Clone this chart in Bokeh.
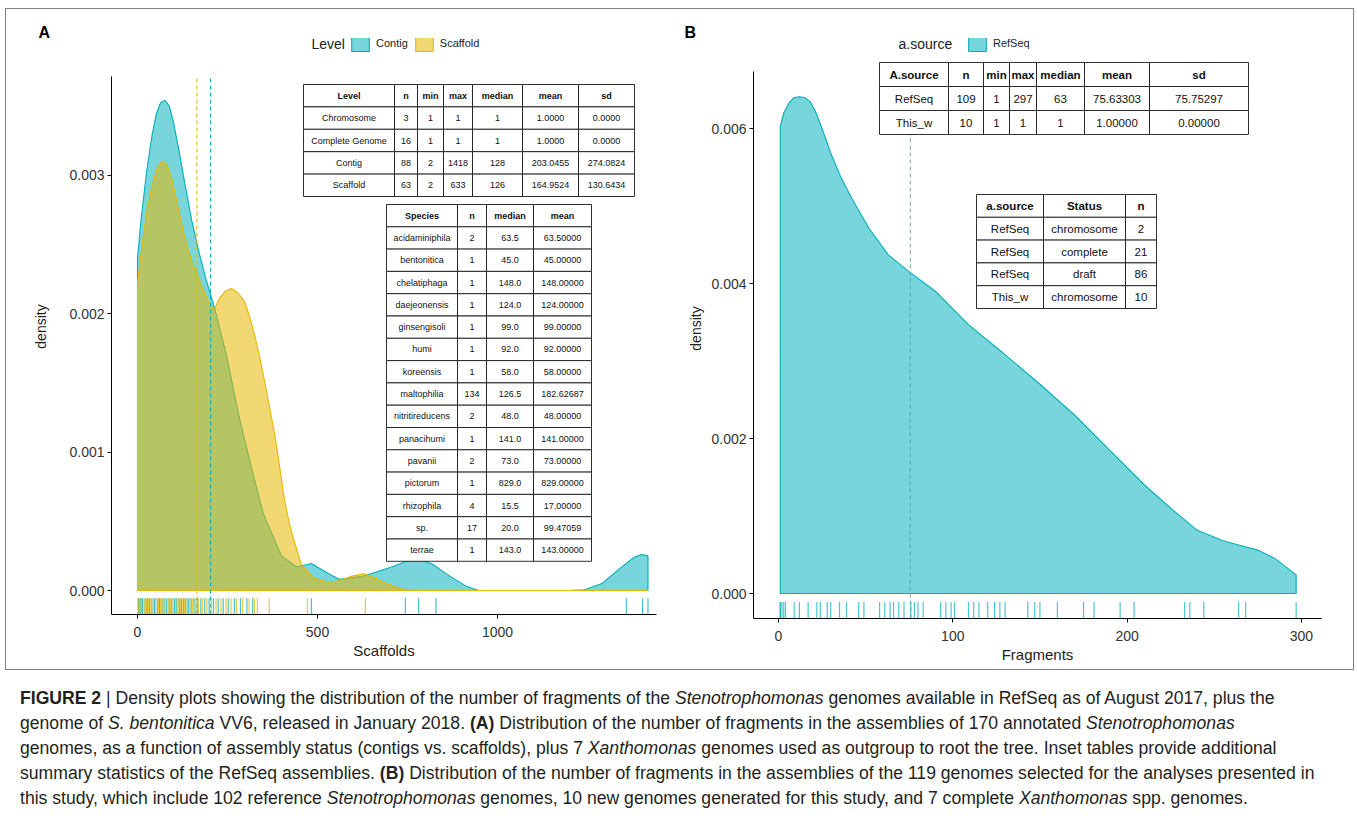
import numpy as np
from bokeh.plotting import figure
from bokeh.models import (Label, Legend, LegendItem, FixedTicker, NumeralTickFormatter,
                          Range1d, Div, ColumnDataSource)
from bokeh.layouts import row, column
from bokeh.embed import file_html
from bokeh.resources import INLINE
from bokeh.core.properties import value

# ---------------- data: panel A (Scaffolds by assembly level) ----------------
level_labels = ["Contig", "Scaffold"]
level_means = [203.0455, 164.9524]

contig_x = [0, 10, 25, 40, 52, 64, 76, 88, 100, 115, 130, 150, 170, 190, 214, 247, 281,
            317, 350, 400, 442, 483, 525, 561, 622, 706, 745, 783, 820, 858, 914, 947, 1000,
            1100, 1200, 1242, 1290, 1340, 1380, 1400, 1418]
contig_y = [0.00240, 0.00268, 0.00302, 0.00328, 0.00344, 0.00352, 0.00354, 0.00350, 0.00338,
            0.00318, 0.00296, 0.00268, 0.00245, 0.00225, 0.00204, 0.00170, 0.00127, 0.00088,
            0.00055, 0.00025, 0.00017, 0.000195, 0.00013, 0.00008, 0.00010, 0.00017, 0.00021,
            0.000224, 0.00019, 0.00012, 0.00003, 0.0, 0.0, 0.0, 0.0, 0.000005, 0.00005,
            0.00016, 0.00024, 0.00026, 0.00025]

scaffold_x = [0, 12, 25, 40, 55, 68, 80, 95, 110, 130, 150, 175, 200, 214, 225, 243, 261,
              279, 297, 311, 325, 339, 353, 367, 381, 395, 408, 422, 436, 456, 490, 530, 560,
              590, 628, 660, 692, 733, 780, 900, 1100, 1418]
scaffold_y = [0.00222, 0.00248, 0.00272, 0.00292, 0.00305, 0.00310, 0.00308, 0.00298, 0.00280,
              0.00256, 0.00238, 0.00222, 0.00207, 0.00203, 0.00210, 0.00216, 0.00218, 0.00215,
              0.00209, 0.00198, 0.00185, 0.00169, 0.00151, 0.00132, 0.00113, 0.00089, 0.00066,
              0.00048, 0.00035, 0.00018, 0.00009, 0.00006, 0.00007, 0.00010, 0.00012, 0.00009,
              0.00005, 0.00001, 0.0, 0.0, 0.0, 0.0]

contig_rug = [2, 4, 9, 14, 21, 27, 33, 40, 47, 55, 61, 68, 74, 81, 88, 95, 103, 109, 116, 122,
              128, 134, 141, 149, 157, 166, 176, 187, 199, 211, 224, 238, 252, 269, 286, 304,
              320, 483, 744, 781, 829, 1358, 1403, 1418]
scaffold_rug = [2, 6, 11, 18, 25, 31, 37, 44, 50, 58, 64, 71, 77, 85, 92, 99, 106, 113, 120,
                126, 131, 138, 145, 153, 161, 170, 181, 193, 205, 218, 232, 246, 260, 275, 292,
                310, 325, 333, 366, 472, 633]

# ---------------- data: panel B (Fragments, RefSeq) ----------------
refseq_mean = 75.63303
frag_x = [1, 3, 6, 9, 12, 15, 18, 21, 25, 30, 36, 42, 52, 63, 75, 90, 109, 128, 150, 170,
          190, 210, 225, 240, 255, 265, 275, 285, 297]
frag_y = [0.00603, 0.00620, 0.00633, 0.00640, 0.00641, 0.00640, 0.00635, 0.00623, 0.00600,
          0.00568, 0.00536, 0.00510, 0.00471, 0.00437, 0.00415, 0.00390, 0.00347, 0.00312,
          0.00270, 0.00230, 0.00185, 0.00140, 0.00110, 0.00082, 0.00068, 0.00062, 0.00056,
          0.00045, 0.00024]
frag_rug = [1, 1, 2, 3, 4, 9, 12, 17, 22, 24, 28, 30, 35, 39, 46, 49, 58, 61, 64, 66, 69, 72,
            76, 78, 80, 83, 93, 96, 99, 101, 109, 112, 115, 120, 124, 127, 130, 143, 147, 150,
            160, 175, 181, 196, 204, 233, 236, 244, 264, 268, 297]

# ---------------- inset tables ----------------
tA1_head = ["Level", "n", "min", "max", "median", "mean", "sd"]
tA1_rows = [["Chromosome", "3", "1", "1", "1", "1.0000", "0.0000"],
            ["Complete Genome", "16", "1", "1", "1", "1.0000", "0.0000"],
            ["Contig", "88", "2", "1418", "128", "203.0455", "274.0824"],
            ["Scaffold", "63", "2", "633", "126", "164.9524", "130.6434"]]
tA2_head = ["Species", "n", "median", "mean"]
tA2_rows = [["acidaminiphila", "2", "63.5", "63.50000"],
            ["bentonitica", "1", "45.0", "45.00000"],
            ["chelatiphaga", "1", "148.0", "148.00000"],
            ["daejeonensis", "1", "124.0", "124.00000"],
            ["ginsengisoli", "1", "99.0", "99.00000"],
            ["humi", "1", "92.0", "92.00000"],
            ["koreensis", "1", "58.0", "58.00000"],
            ["maltophilia", "134", "126.5", "182.62687"],
            ["nitritireducens", "2", "48.0", "48.00000"],
            ["panacihumi", "1", "141.0", "141.00000"],
            ["pavanii", "2", "73.0", "73.00000"],
            ["pictorum", "1", "829.0", "829.00000"],
            ["rhizophila", "4", "15.5", "17.00000"],
            ["sp.", "17", "20.0", "99.47059"],
            ["terrae", "1", "143.0", "143.00000"]]
tB1_head = ["A.source", "n", "min", "max", "median", "mean", "sd"]
tB1_rows = [["RefSeq", "109", "1", "297", "63", "75.63303", "75.75297"],
            ["This_w", "10", "1", "1", "1", "1.00000", "0.00000"]]
tB2_head = ["a.source", "Status", "n"]
tB2_rows = [["RefSeq", "chromosome", "2"],
            ["RefSeq", "complete", "21"],
            ["RefSeq", "draft", "86"],
            ["This_w", "chromosome", "10"]]

CYAN = "#00AFBB"
YELLOW = "#E7B800"
FONT = "Liberation Sans"

# page geometry: the row of panels starts at (5, 8) and ends at (1352, 668)
ORX, ORY, ROW_R, ROW_B, SPLIT = 5, 8, 1352, 668, 680


def closed(xs, ys):
    return (np.concatenate([[xs[0]], xs, [xs[-1]]]),
            np.concatenate([[0.0], ys, [0.0]]))


def style_axes(p, xticks, yticks, xlabel, ybounds, ylabel_standoff):
    p.xgrid.visible = False
    p.ygrid.visible = False
    p.outline_line_color = None
    for ax in (p.xaxis[0], p.yaxis[0]):
        ax.axis_line_color = "black"
        ax.axis_line_width = 1
        ax.major_tick_line_color = "black"
        ax.major_tick_in = 0
        ax.major_tick_out = 4
        ax.minor_tick_line_color = None
        ax.major_label_text_font = FONT
        ax.major_label_text_font_size = "14px"
        ax.major_label_text_color = "#333333"
        ax.axis_label_text_font = FONT
        ax.axis_label_text_font_style = "normal"
        ax.axis_label_text_color = "#222222"
    p.xaxis[0].ticker = FixedTicker(ticks=xticks)
    p.yaxis[0].ticker = FixedTicker(ticks=yticks)
    p.yaxis[0].formatter = NumeralTickFormatter(format="0.000")
    p.yaxis[0].bounds = ybounds
    p.yaxis[0].major_label_standoff = 3
    p.yaxis[0].axis_label = "density"
    p.yaxis[0].axis_label_text_font_size = "14px"
    p.yaxis[0].axis_label_standoff = ylabel_standoff
    p.xaxis[0].major_label_standoff = 8
    p.xaxis[0].axis_label = xlabel
    p.xaxis[0].axis_label_text_font_size = "15px"
    p.xaxis[0].axis_label_standoff = 2


def style_title(p, text, offset):
    p.title.text = text
    p.title.align = "left"
    p.title.offset = offset
    p.title.standoff = -4
    p.title.text_font = FONT
    p.title.text_font_size = "16px"
    p.title.text_font_style = "bold"
    p.title.text_color = "black"


def add_table(p, fx, fy, left, top, widths, row_h, head, rows, size):
    edges = np.concatenate([[left], left + np.cumsum(widths)])
    cells = dict(l=[], r=[], t=[], b=[])
    th = dict(x=[], y=[], s=[])
    tb = dict(x=[], y=[], s=[])
    for i, r in enumerate([head] + rows):
        y0 = top + i * row_h
        y1 = y0 + row_h
        for j, s in enumerate(r):
            cells["l"].append(fx(edges[j]))
            cells["r"].append(fx(edges[j + 1]))
            cells["t"].append(fy(y0))
            cells["b"].append(fy(y1))
            d = th if i == 0 else tb
            d["x"].append(fx((edges[j] + edges[j + 1]) / 2))
            d["y"].append(fy((y0 + y1) / 2))
            d["s"].append(s)
    p.quad(left="l", right="r", top="t", bottom="b", source=ColumnDataSource(cells),
           fill_color="white", line_color="#1a1a1a", line_width=0.9)
    for d, st in ((th, "bold"), (tb, "normal")):
        p.text(x="x", y="y", text="s", source=ColumnDataSource(d), text_align="center",
               text_baseline="middle", text_font=value(FONT), text_font_size=size,
               text_font_style=st, text_color="#111111")


# ================= Panel A =================
A_FL, A_FR, A_FT, A_FB = 110, 655, 37, 613      # frame (page px)
A_X0PX, A_XS = 136, 0.36                          # px of x=0, px per unit
A_Y0PX, A_YS = 589, 138500                        # px of y=0, px per unit
A_TOP = 75                                        # top of panel (px)


def axx(px):
    return (px - A_X0PX) / A_XS


def ayy(py):
    return (A_Y0PX - py) / A_YS


pA = figure(x_range=Range1d(axx(A_FL), axx(A_FR)), y_range=Range1d(ayy(A_FB), ayy(A_FT)),
            frame_width=A_FR - A_FL, frame_height=A_FB - A_FT,
            min_border_left=A_FL - ORX, min_border_right=SPLIT - A_FR,
            min_border_top=A_FT - ORY, min_border_bottom=ROW_B - A_FB,
            output_backend="svg", toolbar_location=None)
pA.background_fill_color = "white"
pA.border_fill_color = "white"

cxs, cys = closed(np.array(contig_x, float), np.array(contig_y, float))
sxs, sys_ = closed(np.array(scaffold_x, float), np.array(scaffold_y, float))
rc = pA.patch(cxs, cys, fill_color=CYAN, fill_alpha=0.53, line_color=CYAN, line_width=1.1)
rs = pA.patch(sxs, sys_, fill_color=YELLOW, fill_alpha=0.55, line_color=YELLOW, line_width=1.1)

ybot_A = ayy(A_FB)
ytop_A = ayy(A_TOP)
pA.segment(x0=level_means, x1=level_means, y0=ybot_A, y1=ytop_A,
           line_color=[CYAN, YELLOW], line_dash="4 3", line_width=1.1)
rug_A = 0.03 * (ytop_A - ybot_A)
pA.segment(x0=contig_rug, x1=contig_rug, y0=ybot_A, y1=ybot_A + rug_A,
           line_color=CYAN, line_alpha=0.75, line_width=1.2)
pA.segment(x0=scaffold_rug, x1=scaffold_rug, y0=ybot_A, y1=ybot_A + rug_A,
           line_color=YELLOW, line_alpha=0.75, line_width=1.2)

style_axes(pA, [0, 500, 1000], [0, 0.001, 0.002, 0.003], "Scaffolds", (ybot_A, ytop_A), 17)
style_title(pA, "A", 37 - A_FL)

add_table(pA, axx, ayy, 302, 83, [91, 23, 26, 29, 50, 56, 56], 22.4, tA1_head, tA1_rows, "9px")
add_table(pA, axx, ayy, 385, 203, [71, 29, 47, 58], 22.3, tA2_head, tA2_rows, "9px")

legA = Legend(items=[LegendItem(label=level_labels[0], renderers=[rc]),
                     LegendItem(label=level_labels[1], renderers=[rs])],
              orientation="horizontal", location=(348 - A_FL, A_FB - 52),
              padding=0, margin=0, spacing=5, label_standoff=5, glyph_width=22,
              glyph_height=20, label_height=20, label_text_font=FONT,
              label_text_font_size="11px", label_text_color="#222222",
              border_line_color=None, background_fill_alpha=0)
pA.add_layout(legA)
pA.add_layout(Label(x=axx(310), y=ayy(42), text="Level", text_align="left",
                    text_baseline="middle", text_font=FONT, text_font_size="14px",
                    text_color="#222222"))

# ================= Panel B =================
B_FL, B_FR, B_FT, B_FB = 752, 1320, 37, 617
B_X0PX, B_XS = 777, 1.743
B_Y0PX, B_YS = 592, 77500
B_TOP = 70


def bxx(px):
    return (px - B_X0PX) / B_XS


def byy(py):
    return (B_Y0PX - py) / B_YS


pB = figure(x_range=Range1d(bxx(B_FL), bxx(B_FR)), y_range=Range1d(byy(B_FB), byy(B_FT)),
            frame_width=B_FR - B_FL, frame_height=B_FB - B_FT,
            min_border_left=B_FL - SPLIT, min_border_right=ROW_R - B_FR,
            min_border_top=B_FT - ORY, min_border_bottom=ROW_B - B_FB,
            output_backend="svg", toolbar_location=None)
pB.background_fill_color = "white"
pB.border_fill_color = "white"

fxs, fys = closed(np.array(frag_x, float), np.array(frag_y, float))
rb = pB.patch(fxs, fys, fill_color=CYAN, fill_alpha=0.53, line_color=CYAN, line_width=1.1)
ybot_B = byy(B_FB)
ytop_B = byy(B_TOP)
pB.segment(x0=[refseq_mean], x1=[refseq_mean], y0=ybot_B, y1=ytop_B,
           line_color="#5f9ea3", line_alpha=0.8, line_dash="4 3", line_width=1.1)
rug_B = 0.03 * (ytop_B - ybot_B)
pB.segment(x0=frag_rug, x1=frag_rug, y0=ybot_B, y1=ybot_B + rug_B,
           line_color=CYAN, line_alpha=0.7, line_width=1.2)

style_axes(pB, [0, 100, 200, 300], [0, 0.002, 0.004, 0.006], "Fragments", (ybot_B, ytop_B), 4)
style_title(pB, "B", 683 - B_FL)

add_table(pB, bxx, byy, 878, 61, [69, 35, 26, 27, 48, 65, 99], 24, tB1_head, tB1_rows, "11.5px")
add_table(pB, bxx, byy, 975, 193, [67, 82, 31], 22.8, tB2_head, tB2_rows, "11.5px")

legB = Legend(items=[LegendItem(label="RefSeq", renderers=[rb])],
              orientation="horizontal", location=(965 - B_FL, B_FB - 52),
              padding=0, margin=0, spacing=5, label_standoff=5, glyph_width=22,
              glyph_height=20, label_height=20, label_text_font=FONT,
              label_text_font_size="11px", label_text_color="#222222",
              border_line_color=None, background_fill_alpha=0)
pB.add_layout(legB)
pB.add_layout(Label(x=bxx(897), y=byy(42), text="a.source", text_align="left",
                    text_baseline="middle", text_font=FONT, text_font_size="14px",
                    text_color="#222222"))

# ================= Caption =================
caption = (
    "<b>FIGURE 2</b> | Density plots showing the distribution of the number of fragments of the "
    "<i>Stenotrophomonas</i> genomes available in RefSeq as of August 2017, plus the<br>"
    "genome of <i>S. bentonitica</i> VV6, released in January 2018. <b>(A)</b> Distribution of the "
    "number of fragments in the assemblies of 170 annotated <i>Stenotrophomonas</i><br>"
    "genomes, as a function of assembly status (contigs vs. scaffolds), plus 7 <i>Xanthomonas</i> "
    "genomes used as outgroup to root the tree. Inset tables provide additional<br>"
    "summary statistics of the RefSeq assemblies. <b>(B)</b> Distribution of the number of fragments "
    "in the assemblies of the 119 genomes selected for the analyses presented in<br>"
    "this study, which include 102 reference <i>Stenotrophomonas</i> genomes, 10 new genomes "
    "generated for this study, and 7 complete <i>Xanthomonas</i> spp. genomes."
)
cap = Div(text=("<div style=\"padding:11px 0 0 15px; font-family:'Liberation Sans'; "
                "font-size:17.6px; line-height:25px; color:#231f20; white-space:nowrap;\">"
                + caption + "</div>"),
          width=1349, height=145)

top = row(pA, pB, margin=(ORY, 0, 0, ORX), styles={"border": "1px solid #808080"})
layout = column(top, cap)

open("out.html", "w").write(file_html(layout, INLINE))
